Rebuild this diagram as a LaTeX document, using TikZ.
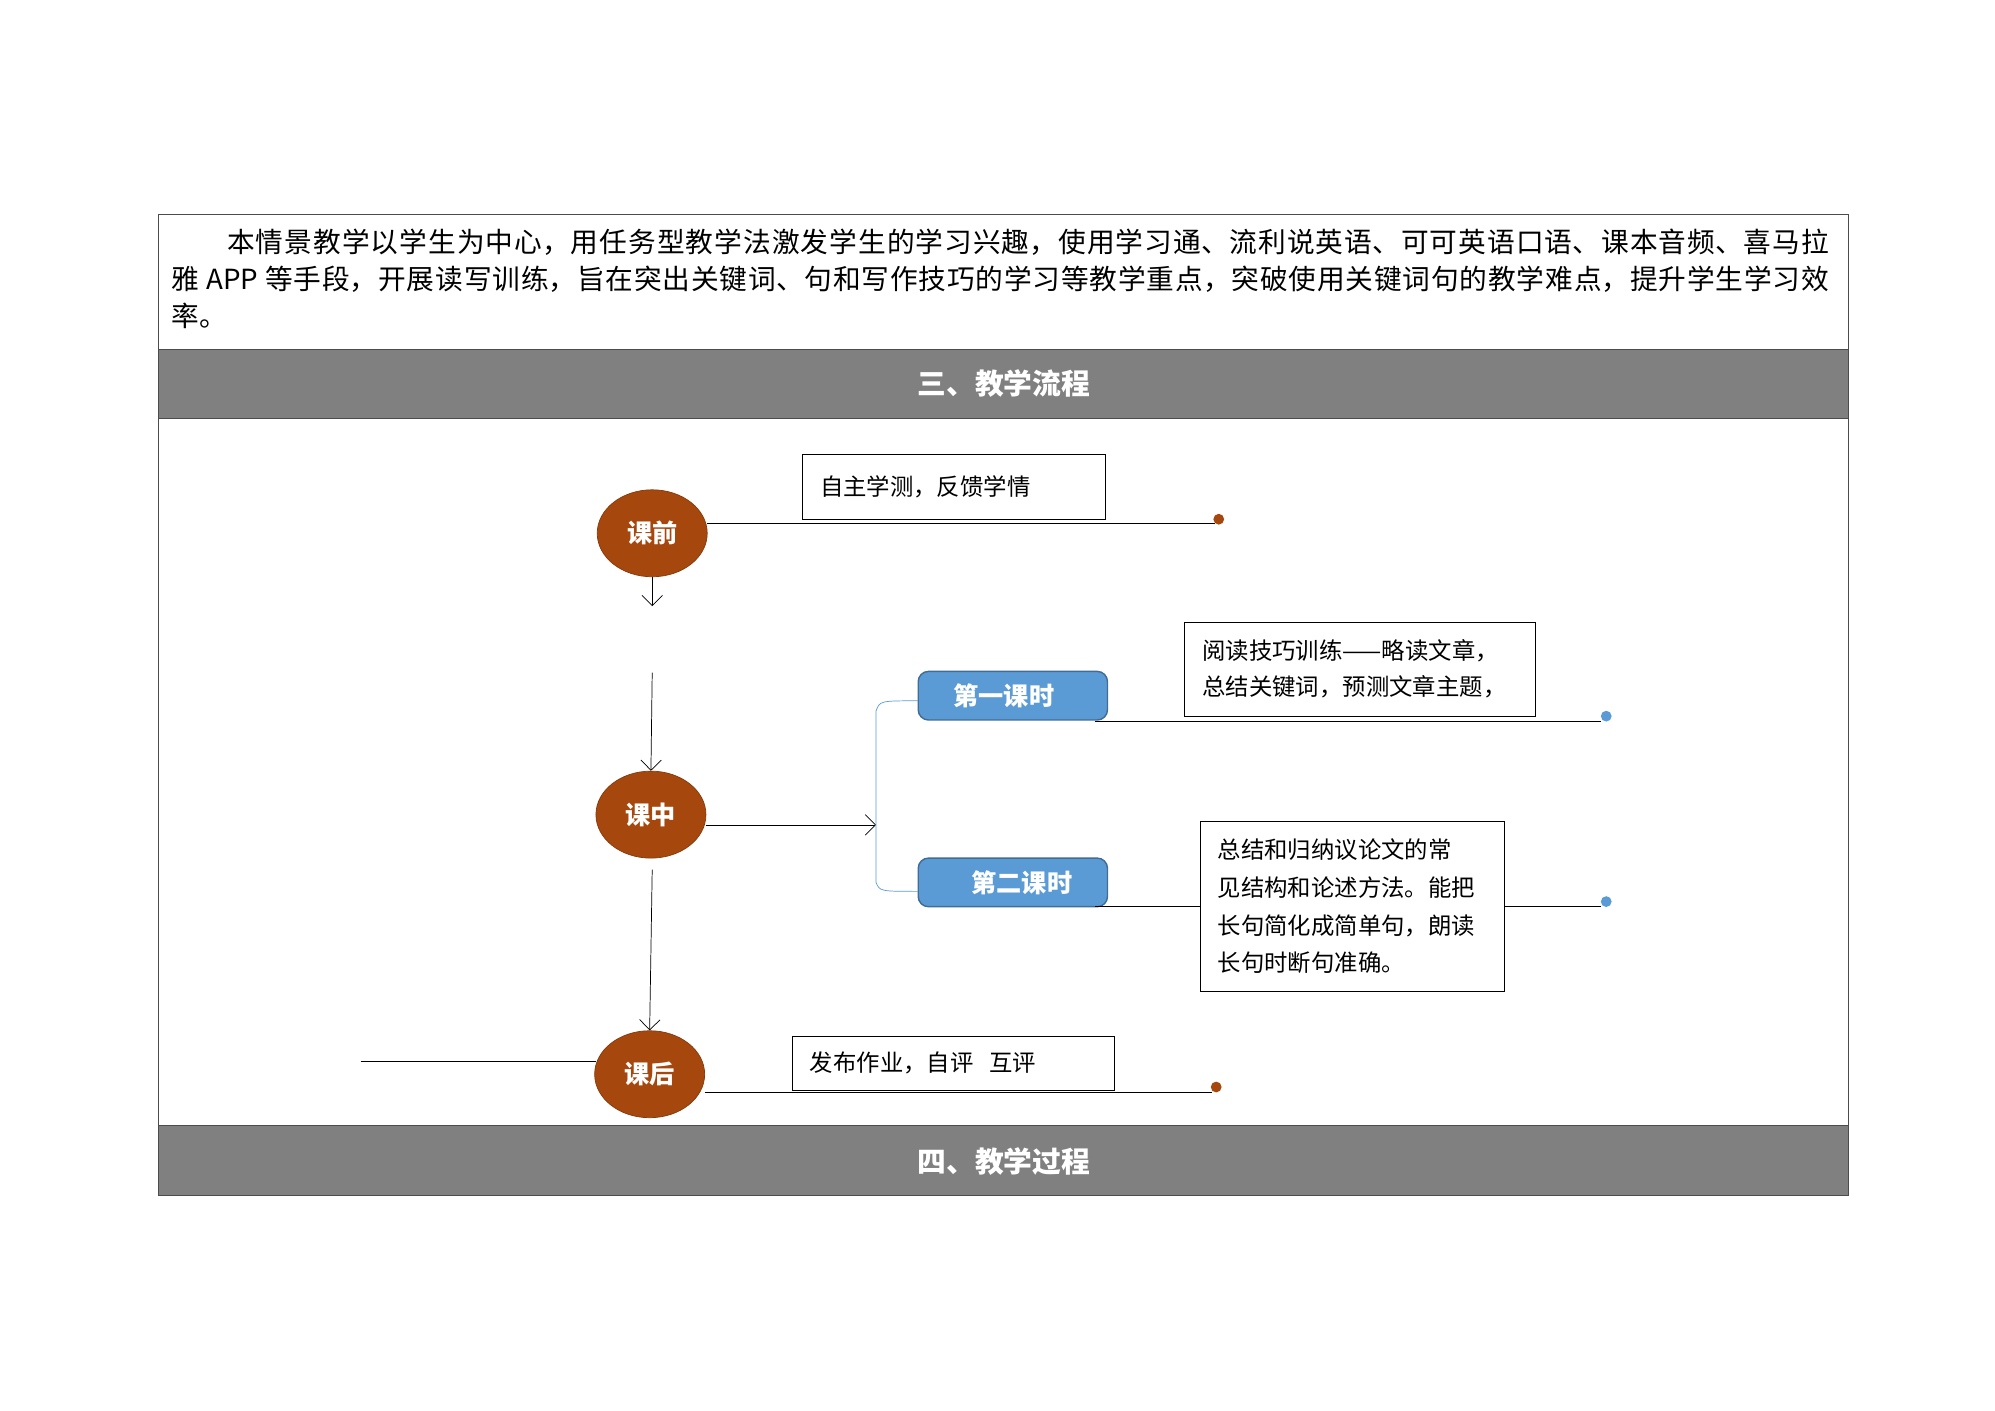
\documentclass[tikz,border=0pt]{standalone}
\usepackage{fontspec}
\setmainfont{Noto Sans CJK SC}
\usetikzlibrary{positioning,arrows.meta,shapes.geometric}
\XeTeXlinebreaklocale "zh"
\XeTeXlinebreakskip=0pt plus 2pt
\definecolor{lsBrown}{RGB}{166,72,14}
\definecolor{lsBlue}{RGB}{91,155,213}
\definecolor{lsGray}{RGB}{128,128,128}
\tikzset{
    base/.style={font=\fontsize{13}{18}\selectfont, align=left},
    stage/.style={ellipse, draw=lsBrown!80!black, fill=lsBrown, text=white,
                  minimum width=86*0.025cm, minimum height=68*0.025cm, inner sep=0pt,
                  font=\fontsize{14}{16}\selectfont\bfseries},
    lesson/.style={rectangle, rounded corners=2mm, draw=lsBlue!70!black, thick, fill=lsBlue,
                   text=white, minimum width=148*0.025cm, minimum height=38*0.025cm, inner sep=0pt,
                   font=\fontsize{14}{16}\selectfont\bfseries},
    note/.style={base, rectangle, draw=black, fill=white, inner xsep=14*0.025cm,
                 inner ysep=0pt, anchor=north west},
    flow/.style={-{Straight Barb[length=2mm]}, black},
    header/.style={fill=lsGray, draw=black!70},
    dot/.style={circle, inner sep=0pt, minimum size=6pt}
}
\begin{document}
\begin{tikzpicture}[x=0.025cm, y=-0.025cm]
  \useasboundingbox (0,0) rectangle (1560,1103);

  % Table
  \draw[black!70] (124,168) rectangle (1445,935);
  \draw[header] (124,273) rectangle (1445,327);
  \draw[header] (124,880) rectangle (1445,935);
  \node[anchor=north west, inner sep=0pt, text width=1296*0.025cm, align=justify,
        font=\fontsize{15.4}{20.6}\selectfont] (intro) at (134,179)
    {\hspace*{2em}本情景教学以学生为中心，用任务型教学法激发学生的学习兴趣，使用学习通、流利说英语、可可英语口语、课本音频、喜马拉\linebreak
     雅 APP 等手段，开展读写训练，旨在突出关键词、句和写作技巧的学习等教学重点，突破使用关键词句的教学难点，提升学生学习效\linebreak 率。};
  \node[text=white, font=\fontsize{16}{18}\selectfont\bfseries] (flowhead) at (785,300) {三、教学流程};
  \node[text=white, font=\fontsize{16}{18}\selectfont\bfseries] (prochead) at (785,908) {四、教学过程};

  % Stages
  \node[stage] (pre) at (510,417) {课前};
  \node[stage] (mid) at (509,637) {课中};
  \node[stage] (post) at (508,840) {课后};

  % Notes
  \node[note, text width=209*0.025cm, minimum height=51*0.025cm] (pretask) at (627,355) {自主学测，反馈学情};
  \node[note, text width=246*0.025cm, minimum height=74*0.025cm] (task1) at (926,486)
    {阅读技巧训练——略读文章，\\[2pt]总结关键词，预测文章主题，};
  \node[note, text width=210*0.025cm, minimum height=133*0.025cm] (task2) at (938,642)
    {总结和归纳议论文的常\\[3pt]见结构和论述方法。能把\\[3pt]长句简化成简单句，朗读\\[3pt]长句时断句准确。};
  \node[note, text width=224*0.025cm, minimum height=42*0.025cm] (posttask) at (619,810) {发布作业，自评\ \ 互评};

  % Lessons
  \node[lesson] (les1) at (792,544) {\hspace*{-10pt}第一课时};
  \node[lesson] (les2) at (792,690) {\hspace*{10pt}第二课时};

  % Ends
  \node[dot, fill=lsBrown] (preend) at (953,406) {};
  \node[dot, fill=lsBrown] (postend) at (951,850) {};
  \node[dot, fill=lsBlue] (les1end) at (1256,560) {};
  \node[dot, fill=lsBlue] (les2end) at (1256,705) {};
  \coordinate (prestub) at (510,474);
  \coordinate (midtop) at (510,526);
  \coordinate (fork) at (685,645);
  \coordinate (leftend) at (282,830);

  % Connectors
  \draw (553,409) -- (950,409);
  \draw[flow] (510,451) -- (prestub);
  \draw[flow] (midtop) -- (mid.north);
  \draw[flow] (510,680) -- (post.north);
  \draw[flow] (552,645) -- (fork);
  \draw[lsBlue] (718,548) .. controls (688,548) .. (685,556) -- (685,690)
        .. controls (688,697) .. (718,697);
  \draw (856,564) -- (1252,564);
  \draw (856,709) -- (task2.west |- 0,709);
  \draw (task2.east |- 0,709) -- (1252,709);
  \draw (leftend) -- (466,830);
  \draw (551,854) -- (948,854);
\end{tikzpicture}
\end{document}
